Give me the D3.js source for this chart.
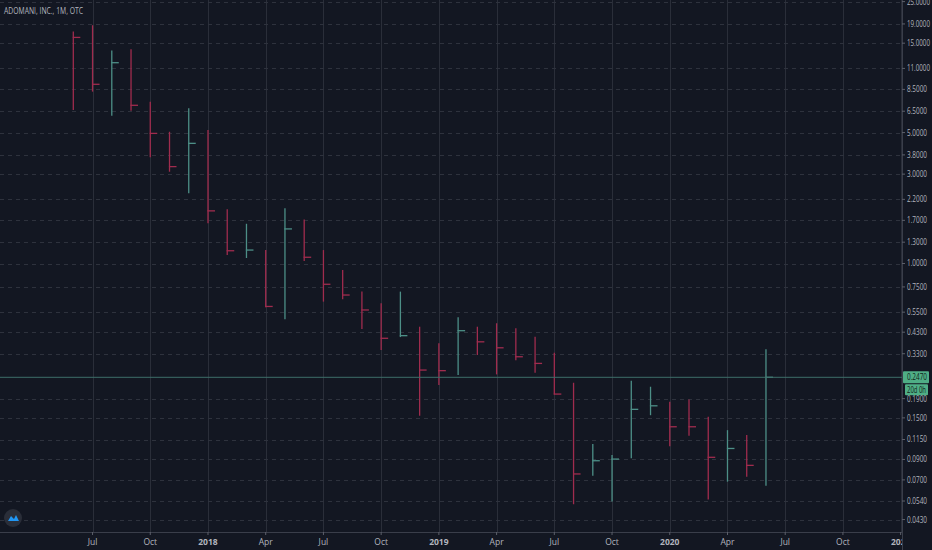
<!DOCTYPE html>
<html>
<head>
<meta charset="utf-8">
<script src="https://cdn.jsdelivr.net/npm/d3@7"></script>
<style>
  html, body { margin: 0; padding: 0; background: #131722; }
  svg { display: block; font-family: "Open Sans", "DejaVu Sans", sans-serif; }
</style>
</head>
<body>
<svg id="chart" width="932" height="550"></svg>
<script>
// monthly bars, Jun 2017 .. Jun 2020 (index 0 = Jun 2017)
var months = ['2017-06','2017-07','2017-08','2017-09','2017-10','2017-11','2017-12',
  '2018-01','2018-02','2018-03','2018-04','2018-05','2018-06','2018-07','2018-08','2018-09','2018-10','2018-11','2018-12',
  '2019-01','2019-02','2019-03','2019-04','2019-05','2019-06','2019-07','2019-08','2019-09','2019-10','2019-11','2019-12',
  '2020-01','2020-02','2020-03','2020-04','2020-05','2020-06'];
var open  = [17.0, 16.1, 9.0, 11.8, 6.99, 4.95, 3.29, 4.38, 1.91, 1.12, 1.18, 0.59, 1.53, 1.08, 0.775, 0.679, 0.565, 0.405, 0.412,
  0.29, 0.268, 0.438, 0.382, 0.355, 0.318, 0.293, 0.201, 0.0753, 0.087, 0.0904, 0.1666, 0.174, 0.14, 0.1345, 0.0924, 0.103, 0.0837];
var high  = [17.3, 18.7, 13.7, 13.9, 7.31, 5.05, 6.74, 5.16, 1.95, 1.63, 1.18, 1.97, 1.72, 1.18, 0.923, 0.708, 0.613, 0.708, 0.460,
  0.375, 0.516, 0.460, 0.480, 0.451, 0.407, 0.334, 0.231, 0.1088, 0.0951, 0.237, 0.220, 0.183, 0.188, 0.152, 0.129, 0.1215, 0.3485];
var low   = [6.6, 8.27, 6.15, 6.54, 3.69, 3.09, 2.37, 1.64, 1.11, 1.07, 0.585, 0.504, 1.03, 0.626, 0.644, 0.447, 0.345, 0.405, 0.154,
  0.225, 0.254, 0.325, 0.256, 0.305, 0.261, 0.200, 0.0519, 0.0737, 0.0536, 0.0913, 0.155, 0.106, 0.1205, 0.0551, 0.0685, 0.0728, 0.0652];
var close = [16.1, 9.05, 11.8, 6.99, 4.95, 3.29, 4.38, 1.91, 1.17, 1.18, 0.59, 1.53, 1.08, 0.775, 0.679, 0.565, 0.399, 0.412, 0.270,
  0.268, 0.438, 0.382, 0.355, 0.318, 0.293, 0.201, 0.0753, 0.0886, 0.0904, 0.1666, 0.174, 0.1345, 0.1345, 0.0924, 0.103, 0.0837, 0.247];

var priceTicks = [25, 19, 15, 11, 8.5, 6.5, 5, 3.8, 3, 2.2, 1.7, 1.3, 1, 0.75, 0.55, 0.43, 0.33, 0.19, 0.15, 0.115, 0.09, 0.07, 0.054, 0.043];
var timeTickIdx = [1, 4, 7, 10, 13, 16, 19, 22, 25, 28, 31, 34, 37, 40, 43];
var timeTickLabels = ['Jul', 'Oct', '2018', 'Apr', 'Jul', 'Oct', '2019', 'Apr', 'Jul', 'Oct', '2020', 'Apr', 'Jul', 'Oct', '2021'];
var lastPrice = 0.247;
var title = 'ADOMANI, INC., 1M, OTC';

var W = 932, H = 550, plotR = 902, plotB = 532;
var upColor = '#4d8f87', downColor = '#a02c4e';
var gridColor = '#262a35', textColor = '#b2b5be';

var svg = d3.select('#chart');
svg.append('rect').attr('width', W).attr('height', H).attr('fill', '#131722');

var x = d3.scaleLinear().domain([-3.81, 43.07]).range([0, plotR]);
var y = d3.scaleLog().domain([0.0369, 25.5]).range([plotB, 0]);

svg.append('defs').append('clipPath').attr('id', 'plotclip')
  .append('rect').attr('width', plotR).attr('height', plotB);

// vertical grid
svg.append('g').selectAll('line').data(timeTickIdx).join('line')
  .attr('x1', function (d) { return Math.round(x(d)) + 0.5; })
  .attr('x2', function (d) { return Math.round(x(d)) + 0.5; })
  .attr('y1', 0).attr('y2', plotB)
  .attr('stroke', '#2a2e39').attr('stroke-width', 1);

// horizontal dashed grid
svg.append('g').selectAll('line').data(priceTicks).join('line')
  .attr('x1', 0).attr('x2', plotR)
  .attr('y1', function (d) { return Math.round(y(d)) + 0.5; })
  .attr('y2', function (d) { return Math.round(y(d)) + 0.5; })
  .attr('stroke', '#2e323d').attr('stroke-width', 1).attr('stroke-dasharray', '4,4');

// bars (high-low + close tick)
var idx = d3.range(months.length);
var bars = svg.append('g').attr('clip-path', 'url(#plotclip)');
function col(i) { return close[i] >= open[i] ? upColor : downColor; }
bars.selectAll('line.hl').data(idx).join('line').attr('class', 'hl')
  .attr('x1', function (i) { return x(i); }).attr('x2', function (i) { return x(i); })
  .attr('y1', function (i) { return y(high[i]); }).attr('y2', function (i) { return y(low[i]); })
  .attr('stroke', col).attr('stroke-width', 1.3);
bars.selectAll('line.cl').data(idx).join('line').attr('class', 'cl')
  .attr('x1', function (i) { return x(i) - 0.6; }).attr('x2', function (i) { return x(i) + 7; })
  .attr('y1', function (i) { return y(close[i]); }).attr('y2', function (i) { return y(close[i]); })
  .attr('stroke', col).attr('stroke-width', 1.3);

// last price line
svg.append('line')
  .attr('x1', 0).attr('x2', plotR)
  .attr('y1', y(lastPrice)).attr('y2', y(lastPrice))
  .attr('stroke', '#3e6e6a').attr('stroke-width', 1);

// axes lines
svg.append('line').attr('x1', plotR + 0.5).attr('x2', plotR + 0.5).attr('y1', 0).attr('y2', H)
  .attr('stroke', '#3a3e4a');
svg.append('line').attr('x1', 0).attr('x2', plotR).attr('y1', plotB + 0.5).attr('y2', plotB + 0.5)
  .attr('stroke', '#3a3e4a');

// price axis labels
var yAxis = svg.append('g');
yAxis.selectAll('line').data(priceTicks).join('line')
  .attr('x1', plotR).attr('x2', plotR + 3)
  .attr('y1', function (d) { return y(d); }).attr('y2', function (d) { return y(d); })
  .attr('stroke', '#5d606b');
yAxis.selectAll('text').data(priceTicks).join('text')
  .attr('x', plotR + 5).attr('y', function (d) { return y(d); })
  .attr('dy', '0.35em').attr('font-size', 8.5).attr('fill', textColor)
  .attr('textLength', function (d) { return d >= 10 ? 23 : 20; })
  .attr('lengthAdjust', 'spacingAndGlyphs')
  .text(function (d) { return d.toFixed(4); });

// time axis labels
svg.append('defs').append('clipPath').attr('id', 'xclip')
  .append('rect').attr('width', plotR).attr('height', H);
var xAxis = svg.append('g').attr('clip-path', 'url(#xclip)');
xAxis.selectAll('line').data(timeTickIdx).join('line')
  .attr('x1', function (d) { return x(d); }).attr('x2', function (d) { return x(d); })
  .attr('y1', plotB).attr('y2', plotB + 3).attr('stroke', '#5d606b');
xAxis.selectAll('text').data(timeTickIdx).join('text')
  .attr('x', function (d) { return x(d); }).attr('y', 545)
  .attr('text-anchor', 'middle').attr('font-size', 8.5)
  .attr('font-weight', function (d, i) { return /^\d+$/.test(timeTickLabels[i]) ? 'bold' : 'normal'; })
  .attr('fill', textColor)
  .text(function (d, i) { return timeTickLabels[i]; });

// last price tags
var ly = y(lastPrice);
svg.append('rect').attr('x', plotR + 1).attr('y', ly - 6).attr('width', 26).attr('height', 12)
  .attr('fill', '#4fae86').attr('rx', 1);
svg.append('text').attr('x', plotR + 5).attr('y', ly).attr('dy', '0.35em')
  .attr('font-size', 8.5).attr('fill', '#0f1f18')
  .attr('textLength', 20).attr('lengthAdjust', 'spacingAndGlyphs')
  .text(lastPrice.toFixed(4));
svg.append('rect').attr('x', plotR + 3).attr('y', ly + 7).attr('width', 23).attr('height', 11)
  .attr('fill', '#4fae86').attr('rx', 1);
svg.append('text').attr('x', plotR + 5).attr('y', ly + 12.5).attr('dy', '0.35em')
  .attr('font-size', 8.5).attr('fill', '#0f1f18')
  .attr('textLength', 19).attr('lengthAdjust', 'spacingAndGlyphs')
  .text('20d 0h');

// title
svg.append('text').attr('x', 4).attr('y', 14)
  .attr('font-size', 9.5).attr('fill', textColor)
  .attr('textLength', 79).attr('lengthAdjust', 'spacingAndGlyphs')
  .text(title);

// logo
var logo = svg.append('g').attr('transform', 'translate(13,518)');
logo.append('circle').attr('r', 9).attr('fill', '#2a2e39');
logo.append('path').attr('d', 'M-5,3 L-2,-2 L1,1 L3,-3 L6,3 Z').attr('fill', '#2196f3');
</script>
</body>
</html>
